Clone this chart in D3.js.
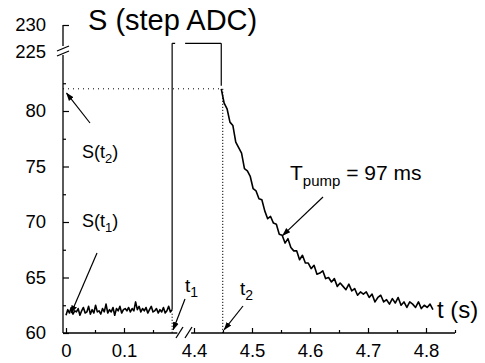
<!DOCTYPE html>
<html>
<head>
<meta charset="utf-8">
<script src="https://cdn.jsdelivr.net/npm/d3@7"></script>
<style>
  body { margin: 0; background: #fff; }
  svg text { font-family: "Liberation Sans", Arial, sans-serif; fill: #000; }
</style>
</head>
<body>
<svg id="chart" width="485" height="363"></svg>
<script>
// baseline trace before the pump pulse (t = 0 .. 0.183 s, every 3 ms)
const baseStart = 0, baseStep = 0.003;
const baseValues = [
  61.6, 62.1, 61.8, 62.3, 61.7, 62.0, 61.9, 62.2, 61.6, 62.0, 62.3, 61.8, 61.9, 62.4, 61.7, 62.1,
  61.8, 62.5, 61.9, 62.0, 61.7, 62.2, 61.9, 62.6, 61.8, 62.1, 61.9, 62.3, 61.6, 62.2, 62.0, 62.4,
  61.8, 62.1, 62.2, 62.0, 62.3, 61.9, 62.2, 62.0, 62.8, 62.1, 62.4, 61.9, 62.2, 62.0, 62.3, 61.8,
  62.1, 62.4, 61.9, 62.0, 62.2, 61.8, 62.1, 61.9, 62.3, 61.8, 62.0, 62.4, 61.9, 62.1
];

// saturated level during the pump (off-scale part of the axis)
const plateauLevel = 226.6;
const t1 = 0.183;   // on the left time segment
const t2 = 4.447;   // on the right time segment

// relaxation after the pump (t2 .. 4.812 s, every 5 ms)
const decayStep = 0.005;
const decayValues = [
  82.0, 80.7, 80.2, 79.0, 78.7, 77.2, 76.7, 76.2, 74.8, 74.6, 74.1, 73.0, 72.8, 72.1, 72.0, 71.0,
  70.3, 70.5, 69.9, 69.8, 68.9, 68.8, 68.1, 68.5, 67.7, 67.4, 67.4, 66.6, 67.0, 66.3, 66.3, 65.8,
  66.1, 65.3, 65.4, 65.6, 64.9, 65.0, 64.6, 64.9, 64.2, 64.5, 64.2, 63.9, 64.4, 63.8, 64.0, 63.4,
  63.7, 63.5, 63.7, 63.2, 63.5, 62.8, 63.2, 63.4, 62.8, 63.0, 62.6, 63.1, 62.7, 63.2, 62.5, 62.8,
  62.3, 62.8, 62.6, 62.3, 62.8, 62.2, 62.5, 62.3, 62.6, 62.1
];

const yMajor = [60, 65, 70, 75, 80];
const yMinor = [62.5, 67.5, 72.5, 77.5, 82.5];
const yTop = [225, 230];
const xLeftMajor = [0, 0.1];
const xLeftMinor = [0.05, 0.15];
const xRightMajor = [4.4, 4.5, 4.6, 4.7, 4.8];
const xRightMinor = [4.45, 4.55, 4.65, 4.75, 4.85];

const svg = d3.select("#chart");

// broken axes: two y pieces and two x pieces
const yLo = d3.scaleLinear().domain([60, 85]).range([333, 55.5]);
const yHi = d3.scaleLinear().domain([225, 230]).range([52, 25]);
const xL = d3.scaleLinear().domain([0, 0.2]).range([66, 182]);
const xR = d3.scaleLinear().domain([4.38, 4.85]).range([182.4, 455]);

const axisX = 63, axisY = 333;
const plain = d => String(d);

// y axis pieces
svg.append("g").attr("transform", `translate(${axisX},0)`)
  .call(d3.axisLeft(yLo).tickValues(yMajor).tickFormat(plain).tickSize(-6).tickPadding(17).tickSizeOuter(0))
  .call(g => g.select(".domain").remove());
svg.append("g").attr("transform", `translate(${axisX},0)`)
  .call(d3.axisLeft(yLo).tickValues(yMinor).tickSize(-3).tickFormat("").tickSizeOuter(0))
  .call(g => g.select(".domain").remove());
svg.append("g").attr("transform", `translate(${axisX},0)`)
  .call(d3.axisLeft(yHi).tickValues(yTop).tickFormat(plain).tickSize(-6).tickPadding(17).tickSizeOuter(0))
  .call(g => g.select(".domain").remove())
  .call(g => g.selectAll(".tick").filter(d => d === 225).select("line").remove());

// x axis pieces
function xAxis(scale, major, minor) {
  svg.append("g").attr("transform", `translate(0,${axisY})`)
    .call(d3.axisBottom(scale).tickValues(major).tickFormat(plain).tickSize(-5).tickPadding(11).tickSizeOuter(0))
    .call(g => g.select(".domain").remove());
  svg.append("g").attr("transform", `translate(0,${axisY})`)
    .call(d3.axisBottom(scale).tickValues(minor).tickSize(-3).tickFormat("").tickSizeOuter(0))
    .call(g => g.select(".domain").remove());
}
xAxis(xL, xLeftMajor, xLeftMinor);
xAxis(xR, xRightMajor, xRightMinor);

svg.selectAll(".tick text").attr("font-size", 18.5)
  .attr("font-family", "Liberation Sans, Arial, sans-serif");
svg.selectAll(".tick line").attr("stroke", "#000").attr("stroke-width", 1.2);

// axis lines with break marks
const axisLine = svg.append("g").attr("stroke", "#000").attr("stroke-width", 1.3).attr("fill", "none");
axisLine.append("line").attr("x1", axisX).attr("x2", axisX).attr("y1", axisY).attr("y2", 55);
axisLine.append("line").attr("x1", axisX).attr("x2", axisX).attr("y1", 46).attr("y2", 25);
axisLine.append("line").attr("x1", 57).attr("x2", 69).attr("y1", 51).attr("y2", 46);
axisLine.append("line").attr("x1", 57).attr("x2", 69).attr("y1", 56).attr("y2", 51);
axisLine.append("line").attr("x1", axisX).attr("x2", xL(0.192)).attr("y1", axisY).attr("y2", axisY);
axisLine.append("line").attr("x1", xR(4.395)).attr("x2", xR(4.85)).attr("y1", axisY).attr("y2", axisY);
axisLine.append("line").attr("x1", 176).attr("x2", 183).attr("y1", 338).attr("y2", 327);
axisLine.append("line").attr("x1", 185).attr("x2", 192).attr("y1", 338).attr("y2", 327);

// reference dotted lines at S(t2) and at t1, t2
const dotted = svg.append("g").attr("stroke", "#000").attr("stroke-width", 1).attr("fill", "none");
dotted.append("line").attr("x1", axisX).attr("x2", xR(t2))
  .attr("y1", yLo(decayValues[0])).attr("y2", yLo(decayValues[0]))
  .attr("stroke-dasharray", "1,4");
dotted.append("line").attr("x1", xR(t2) + 1.5).attr("x2", xR(t2) + 1.5)
  .attr("y1", yLo(decayValues[0])).attr("y2", axisY)
  .attr("stroke-dasharray", "1.2,1.8");
dotted.append("line").attr("x1", xL(t1)).attr("x2", xL(t1))
  .attr("y1", yLo(baseValues[baseValues.length - 1]) + 4).attr("y2", axisY)
  .attr("stroke-dasharray", "1.2,1.8");

// traces
const baseLine = d3.line()
  .x((d, i) => xL(baseStart + i * baseStep))
  .y(d => yLo(d));
const decayLine = d3.line()
  .x((d, i) => xR(t2 + i * decayStep))
  .y(d => yLo(d));

const trace = svg.append("g").attr("stroke", "#000").attr("fill", "none")
  .attr("stroke-width", 1.6).attr("stroke-linejoin", "round");
trace.append("path").attr("d", baseLine(baseValues));
trace.append("path").attr("d", decayLine(decayValues));

// the step up to saturation and back down at t2
trace.append("line").attr("x1", xL(t1)).attr("x2", xL(t1))
  .attr("y1", yLo(baseValues[baseValues.length - 1])).attr("y2", yHi(plateauLevel))
  .attr("stroke-width", 1.2);
trace.append("line").attr("x1", xR(t2)).attr("x2", xR(t2))
  .attr("y1", yHi(plateauLevel)).attr("y2", yLo(decayValues[0]) - 3)
  .attr("stroke-width", 1.2);
trace.append("line").attr("x1", xL(t1)).attr("x2", xR(t2))
  .attr("y1", yHi(plateauLevel)).attr("y2", yHi(plateauLevel))
  .attr("stroke-width", 1.2).attr("stroke-dasharray", "3,10,36");

// arrowhead marker
svg.append("defs").append("marker")
  .attr("id", "head").attr("viewBox", "0 0 10 10").attr("refX", 9).attr("refY", 5)
  .attr("markerWidth", 7).attr("markerHeight", 7).attr("orient", "auto")
  .append("path").attr("d", "M0,1.5L10,5L0,8.5Z").attr("fill", "#000");

function arrow(x1, y1, x2, y2) {
  svg.append("line").attr("x1", x1).attr("y1", y1).attr("x2", x2).attr("y2", y2)
    .attr("stroke", "#000").attr("stroke-width", 1.2).attr("marker-end", "url(#head)");
}
arrow(90, 123, xL(0.001), yLo(81.6));
arrow(97, 253, xL(0.009), yLo(61.8));
arrow(185, 299, xL(t1) + 1, yLo(60.3));
arrow(243, 306, xR(t2) + 3, yLo(60.3));
arrow(323, 197, xR(4.553), yLo(68.8));

// labels
function subLabel(x, y, main, sub, size, subSize, rest) {
  const t = svg.append("text").attr("x", x).attr("y", y).attr("font-size", size);
  t.append("tspan").text(main);
  t.append("tspan").attr("font-size", subSize).attr("dy", size * 0.28).text(sub);
  if (rest) t.append("tspan").attr("dy", -size * 0.28).text(rest);
  return t;
}
svg.append("text").attr("x", 88).attr("y", 30).attr("font-size", 29).text("S (step ADC)");
svg.append("text").attr("x", 437).attr("y", 318).attr("font-size", 24).text("t (s)");
subLabel(82, 158, "S(t", "2", 18, 13, ")");
subLabel(82, 227, "S(t", "1", 18, 13, ")");
subLabel(185, 292, "t", "1", 19, 14);
subLabel(240, 295, "t", "2", 19, 14);
subLabel(290, 180, "T", "pump", 21, 15, " = 97 ms");
</script>
</body>
</html>
